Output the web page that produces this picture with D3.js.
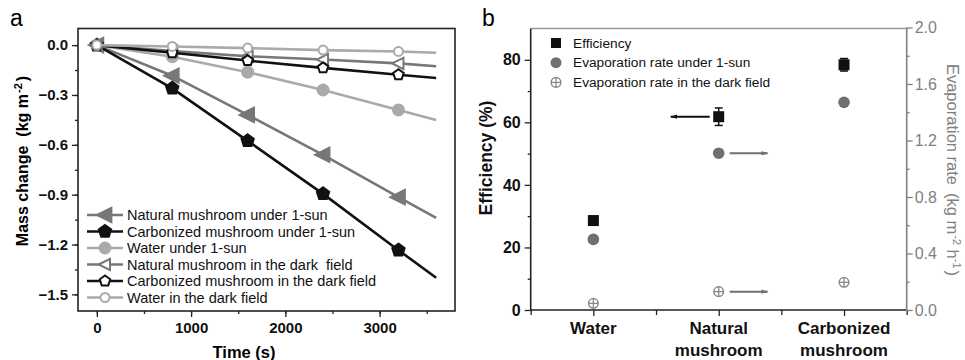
<!DOCTYPE html>
<html>
<head>
<meta charset="utf-8">
<script src="https://cdn.jsdelivr.net/npm/d3@7"></script>
<style>
  body { margin: 0; background: #fff; }
  svg { font-family: "Liberation Sans", Arial, sans-serif; }
</style>
</head>
<body>
<svg id="chart" width="965" height="360"></svg>
<script>
// panel a data
const times = [0, 800, 1600, 2400, 3200, 3600];
const natSun = [0, -0.184, -0.42, -0.66, -0.915, -1.04];
const carbSun = [0, -0.26, -0.576, -0.895, -1.234, -1.40];
const waterSun = [0, -0.07, -0.163, -0.27, -0.39, -0.45];
const natDark = [0, -0.036, -0.067, -0.087, -0.11, -0.127];
const carbDark = [0, -0.046, -0.093, -0.137, -0.178, -0.198];
const waterDark = [0, -0.008, -0.018, -0.03, -0.038, -0.046];
const massTicks = [0, -0.3, -0.6, -0.9, -1.2, -1.5];
const timeTicks = [0, 1000, 2000, 3000];

// panel b data
const samples = ['Water', 'Natural mushroom', 'Carbonized mushroom'];
const efficiency = [28.6, 61.8, 78.4];
const effError = [0, 2.8, 2.0];
const rateSun = [0.50, 1.11, 1.47];
const rateDark = [0.047, 0.13, 0.196];
const effTicks = [0, 20, 40, 60, 80];
const rateTicks = [0, 0.4, 0.8, 1.2, 1.6, 2.0];

const svg = d3.select('#chart');
const GRAY = '#777';
const LIGHT = '#aaa';
const BLACK = '#111';

// ---------- panel a ----------
const xa = d3.scaleLinear().domain([-200, 3800]).range([78, 455]);
const ya = d3.scaleLinear().domain([-1.6, 0.1]).range([311, 28.5]);

svg.append('text').attr('x', 10).attr('y', 26).attr('font-size', 23).text('a');

const ga = svg.append('g');

ga.append('g').attr('transform', 'translate(0,311)')
  .call(d3.axisBottom(xa).tickValues(d3.range(0, 3800, 500)).tickSize(3).tickFormat(''))
  .call(g => g.select('.domain').remove());
ga.append('g').attr('transform', 'translate(0,311)')
  .call(d3.axisBottom(xa).tickValues(timeTicks).tickSize(6).tickPadding(5).tickFormat(d3.format('d')))
  .call(g => g.select('.domain').remove())
  .call(g => g.selectAll('text').attr('font-size', 15).attr('font-weight', 'bold').attr('fill', '#111'));
ga.append('g').attr('transform', 'translate(78,0)')
  .call(d3.axisLeft(ya).tickValues(d3.range(-1.5, 0.01, 0.15)).tickSize(3).tickFormat(''))
  .call(g => g.select('.domain').remove());
ga.append('g').attr('transform', 'translate(78,0)')
  .call(d3.axisLeft(ya).tickValues(massTicks).tickSize(6).tickPadding(4).tickFormat(d3.format('.1f')))
  .call(g => g.select('.domain').remove())
  .call(g => g.selectAll('text').attr('font-size', 15).attr('font-weight', 'bold').attr('fill', '#111'));
ga.selectAll('.tick line').attr('stroke', '#222').attr('stroke-width', 1.3);

ga.append('rect').attr('x', 78).attr('y', 28.5).attr('width', 377).attr('height', 282.5)
  .attr('fill', 'none').attr('stroke', '#222').attr('stroke-width', 1.6);

const triLeft = d3.symbol().type({ draw(ctx, size) {
  const r = Math.sqrt(size) * 0.7;
  ctx.moveTo(-r, 0); ctx.lineTo(r * 0.8, -r * 0.9); ctx.lineTo(r * 0.8, r * 0.9); ctx.closePath();
} });

const seriesA = [
  { name: 'Natural mushroom under 1-sun', vals: natSun, color: GRAY, shape: 'tri', fill: GRAY },
  { name: 'Carbonized mushroom under 1-sun', vals: carbSun, color: BLACK, shape: 'pent', fill: BLACK },
  { name: 'Water under 1-sun', vals: waterSun, color: LIGHT, shape: 'circ', fill: LIGHT },
  { name: 'Natural mushroom in the dark\u00a0 field', vals: natDark, color: GRAY, shape: 'tri', fill: '#fff' },
  { name: 'Carbonized mushroom in the dark field', vals: carbDark, color: BLACK, shape: 'pent', fill: '#fff' },
  { name: 'Water in the dark field', vals: waterDark, color: LIGHT, shape: 'circ', fill: '#fff' }
];

function marker(sel, s, open) {
  if (s.shape === 'circ') {
    sel.append('circle').attr('r', open ? 4.5 : 5.5).attr('fill', s.fill)
      .attr('stroke', s.color).attr('stroke-width', 2);
  } else if (s.shape === 'pent') {
    const r = open ? 5.5 : 6.5;
    const pts = d3.range(5).map(i => {
      const a = -Math.PI / 2 + i * 2 * Math.PI / 5;
      return [r * Math.cos(a), r * Math.sin(a)];
    });
    sel.append('polygon').attr('points', pts.map(p => p.join(',')).join(' '))
      .attr('fill', s.fill).attr('stroke', s.color).attr('stroke-width', 2);
  } else {
    sel.append('path').attr('d', triLeft.size(open ? 80 : 130)()).attr('fill', s.fill)
      .attr('stroke', s.color).attr('stroke-width', 2);
  }
}

const line = d3.line().x((d, i) => xa(times[i])).y(d => ya(d));
seriesA.forEach((s, k) => {
  const open = k >= 3;
  ga.append('path').datum(s.vals).attr('d', line).attr('fill', 'none')
    .attr('stroke', s.color).attr('stroke-width', 2.6);
  s.vals.slice(0, 5).forEach((v, i) => {
    const m = ga.append('g').attr('transform', `translate(${xa(times[i])},${ya(v)})`);
    marker(m, s, open);
  });
});

// legend a
const legA = ga.append('g').attr('transform', 'translate(87,215)');
seriesA.forEach((s, k) => {
  const row = legA.append('g').attr('transform', `translate(0,${k * 16.5})`);
  row.append('line').attr('x1', 0).attr('x2', 36).attr('stroke', s.color).attr('stroke-width', 2.6);
  const m = row.append('g').attr('transform', 'translate(18,0)');
  marker(m, s, k >= 3);
  row.append('text').attr('x', 40).attr('dy', '0.35em').attr('font-size', 14.5).attr('fill', '#111').text(s.name);
});

svg.append('text').attr('x', 244).attr('y', 358).attr('text-anchor', 'middle')
  .attr('font-size', 16.5).attr('font-weight', 'bold').text('Time (s)');
const ytA = svg.append('text').attr('transform', 'translate(28,161) rotate(-90)').attr('text-anchor', 'middle')
  .attr('font-size', 16).attr('font-weight', 'bold');
ytA.append('tspan').text('Mass change');
ytA.append('tspan').attr('dx', 9).text('(kg m');
ytA.append('tspan').attr('dy', -6).attr('dx', 1).attr('font-size', 11).text('-2');
ytA.append('tspan').attr('dy', 6).attr('dx', 2).text(')');

// ---------- panel b ----------
const xb = d3.scaleLinear().domain([-0.5, 2.5]).range([530.7, 906.7]);
const yb = d3.scaleLinear().domain([0, 90]).range([310, 28.5]);
const yr = d3.scaleLinear().domain([0, 2.0]).range([310, 27.5]);
const RGRAY = '#808080';

svg.append('text').attr('x', 482).attr('y', 26).attr('font-size', 23).text('b');
const gb = svg.append('g');

gb.append('line').attr('x1', 530.7).attr('x2', 906.7).attr('y1', 28.5).attr('y2', 28.5)
  .attr('stroke', '#999').attr('stroke-width', 1.3);

// bottom axis
gb.append('g').attr('transform', 'translate(0,310)')
  .call(d3.axisBottom(xb).tickValues([-0.5, 0.5, 1.5, 2.5]).tickSize(5).tickFormat(''))
  .call(g => g.select('.domain').remove());
gb.append('g').attr('transform', 'translate(0,310)')
  .call(d3.axisBottom(xb).tickValues([0, 1, 2]).tickSize(6).tickFormat(''))
  .call(g => g.select('.domain').remove());
gb.selectAll('.tick line').attr('stroke', '#222').attr('stroke-width', 1.3);
samples.forEach((name, i) => {
  const t = gb.append('text').attr('x', xb(i)).attr('y', 334).attr('text-anchor', 'middle')
    .attr('font-size', 17).attr('font-weight', 'bold').attr('fill', '#111');
  const parts = name.split(' ');
  parts.forEach((p, j) => t.append('tspan').attr('x', xb(i)).attr('dy', j ? 22 : 0).text(p));
});

// left axis
const gl = gb.append('g').attr('transform', 'translate(530.7,0)');
gl.call(d3.axisLeft(yb).tickValues(d3.range(10, 90, 20)).tickSize(3).tickFormat(''))
  .call(g => g.select('.domain').remove());
gl.append('g').call(d3.axisLeft(yb).tickValues(effTicks).tickSize(6).tickPadding(4).tickFormat(d3.format('d')))
  .call(g => g.select('.domain').remove())
  .call(g => g.selectAll('text').attr('font-size', 16).attr('font-weight', 'bold').attr('fill', '#111'));
gl.selectAll('.tick line').attr('stroke', '#222').attr('stroke-width', 1.3);
gb.append('line').attr('x1', 530.7).attr('x2', 530.7).attr('y1', 28.5).attr('y2', 311)
  .attr('stroke', '#222').attr('stroke-width', 1.6);
gb.append('line').attr('x1', 530).attr('x2', 906.7).attr('y1', 310).attr('y2', 310)
  .attr('stroke', '#222').attr('stroke-width', 1.6);

// right axis
const gr = gb.append('g').attr('transform', 'translate(906.7,0)');
gr.call(d3.axisRight(yr).tickValues(d3.range(0.2, 2.0, 0.4)).tickSize(3).tickFormat(''))
  .call(g => g.select('.domain').remove());
gr.append('g').call(d3.axisRight(yr).tickValues(rateTicks).tickSize(6).tickPadding(2).tickFormat(d3.format('.1f')))
  .call(g => g.select('.domain').remove())
  .call(g => g.selectAll('text').attr('font-size', 16).attr('fill', RGRAY));
gr.selectAll('.tick line').attr('stroke', RGRAY).attr('stroke-width', 1.3);
gb.append('line').attr('x1', 906.7).attr('x2', 906.7).attr('y1', 27.5).attr('y2', 310.8)
  .attr('stroke', RGRAY).attr('stroke-width', 1.6);

// axis titles
svg.append('text').attr('transform', 'translate(492,158) rotate(-90)').attr('text-anchor', 'middle')
  .attr('font-size', 17.5).attr('font-weight', 'bold').attr('fill', '#111').text('Efficiency (%)');
const ytR = svg.append('text').attr('transform', 'translate(947,170) rotate(90)').attr('text-anchor', 'middle')
  .attr('font-size', 16.5).attr('fill', RGRAY);
ytR.append('tspan').text('Evaporation rate');
ytR.append('tspan').attr('dx', 8).text('(kg m');
ytR.append('tspan').attr('dy', -6).attr('dx', 1).attr('font-size', 11).text('-2');
ytR.append('tspan').attr('dy', 6).text(' h');
ytR.append('tspan').attr('dy', -6).attr('font-size', 11).text('-1');
ytR.append('tspan').attr('dy', 6).attr('dx', 2).text(')');

// arrow markers
const defs = svg.append('defs');
[['arrBlack', BLACK], ['arrGray', '#707070']].forEach(([id, c]) => {
  defs.append('marker').attr('id', id).attr('viewBox', '0 0 10 10').attr('refX', 9).attr('refY', 5)
    .attr('markerWidth', 5).attr('markerHeight', 3.5).attr('orient', 'auto-start-reverse')
    .attr('markerUnits', 'strokeWidth')
    .append('path').attr('d', 'M0,2 L10,5 L0,8 Z').attr('fill', c);
});

// dark field markers
function crossCircle(sel, x, y) {
  const g = sel.append('g').attr('transform', `translate(${x},${y})`);
  g.append('circle').attr('r', 4.8).attr('fill', '#fff').attr('stroke', '#888').attr('stroke-width', 1.5);
  g.append('line').attr('x1', -4.8).attr('x2', 4.8).attr('stroke', '#888').attr('stroke-width', 1.3);
  g.append('line').attr('y1', -4.8).attr('y2', 4.8).attr('stroke', '#888').attr('stroke-width', 1.3);
}

samples.forEach((s, i) => {
  crossCircle(gb, xb(i), yr(rateDark[i]));
  gb.append('circle').attr('cx', xb(i)).attr('cy', yr(rateSun[i])).attr('r', 5.8).attr('fill', '#707070');
  if (effError[i] > 0) {
    const top = yb(efficiency[i] + effError[i]), bot = yb(efficiency[i] - effError[i]);
    gb.append('line').attr('x1', xb(i)).attr('x2', xb(i)).attr('y1', top).attr('y2', bot)
      .attr('stroke', BLACK).attr('stroke-width', 1.5);
    [top, bot].forEach(y => gb.append('line').attr('x1', xb(i) - 4).attr('x2', xb(i) + 4)
      .attr('y1', y).attr('y2', y).attr('stroke', BLACK).attr('stroke-width', 1.5));
  }
  gb.append('rect').attr('x', xb(i) - 5.5).attr('y', yb(efficiency[i]) - 5.5)
    .attr('width', 11).attr('height', 11).attr('fill', BLACK);
});

// arrows pointing to the axis each series belongs to
gb.append('line').attr('x1', xb(1) - 9).attr('x2', xb(1) - 48)
  .attr('y1', yb(efficiency[1])).attr('y2', yb(efficiency[1]))
  .attr('stroke', BLACK).attr('stroke-width', 2).attr('marker-end', 'url(#arrBlack)');
[rateSun[1], rateDark[1]].forEach(v => {
  gb.append('line').attr('x1', xb(1) + 11).attr('x2', xb(1) + 49)
    .attr('y1', yr(v)).attr('y2', yr(v))
    .attr('stroke', '#707070').attr('stroke-width', 2).attr('marker-end', 'url(#arrGray)');
});

// legend b
const legB = gb.append('g').attr('transform', 'translate(556,43)');
legB.append('rect').attr('x', -5).attr('y', -5).attr('width', 10).attr('height', 10).attr('fill', BLACK);
legB.append('circle').attr('cy', 19.7).attr('r', 5.5).attr('fill', '#707070');
crossCircle(legB, 0, 39.4);
['Efficiency', 'Evaporation rate under 1-sun', 'Evaporation rate in the dark field'].forEach((t, k) => {
  legB.append('text').attr('x', 17).attr('y', k * 19.7).attr('dy', '0.35em')
    .attr('font-size', 13.7).attr('fill', '#111').text(t);
});
</script>
</body>
</html>
